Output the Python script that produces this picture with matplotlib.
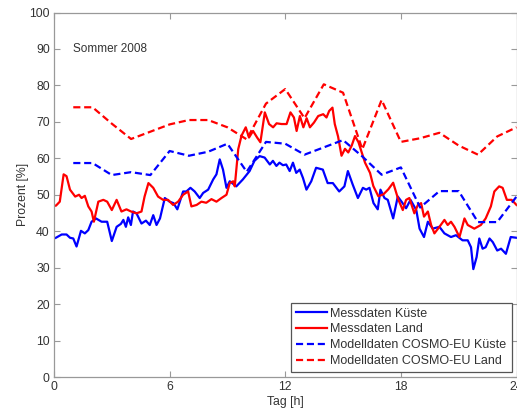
import matplotlib
matplotlib.use("Agg")
import matplotlib.pyplot as plt

plt.rcParams['font.family'] = ['Liberation Sans', 'DejaVu Sans']

# Measured relative humidity, coast station
t_kueste = [0, 0.1, 0.4, 0.65, 0.83, 1.0, 1.17, 1.4, 1.6, 1.78, 1.95, 2.18, 2.47, 2.76, 3.0,
            3.25, 3.47, 3.6, 3.73, 3.85, 3.99, 4.1, 4.28, 4.54, 4.77, 4.97, 5.15, 5.32, 5.5,
            5.75, 6.0, 6.2, 6.4, 6.7, 6.87, 7.08, 7.3, 7.56, 7.74, 8.0, 8.26, 8.43, 8.6, 8.77,
            8.95, 9.12, 9.46, 9.8, 10.15, 10.4, 10.67, 10.93, 11.2, 11.36, 11.54, 11.7, 11.88,
            12.05, 12.23, 12.4, 12.57, 12.75, 12.92, 13.1, 13.35, 13.6, 13.95, 14.2, 14.47,
            14.8, 15.07, 15.25, 15.5, 15.77, 16.03, 16.2, 16.37, 16.58, 16.8, 16.94, 17.15,
            17.32, 17.6, 17.84, 18.05, 18.27, 18.5, 18.8, 18.97, 19.2, 19.4, 19.65, 20.0,
            20.26, 20.6, 20.86, 21.2, 21.47, 21.64, 21.76, 21.93, 22.07, 22.24, 22.4, 22.6,
            22.77, 23.0, 23.2, 23.45, 23.7, 24.0]
v_kueste = [38, 38.2, 39.1, 39.1, 38.2, 38, 35.8, 40.1, 39.4, 40.3, 42.6, 43.5, 42.6, 42.6, 37.3,
            41.2, 42, 43.1, 41.2, 43.8, 41.7, 45.4, 44.9, 42.1, 42.9, 41.7, 44.4, 41.7, 43.5,
            49.1, 48.1, 47.7, 46, 50.9, 50.9, 51.9, 50.9, 49.1, 50.5, 51.4, 54.2, 55.6, 59.7, 56.9,
            51.9, 53.7, 52.3, 54.2, 56.5, 59.3, 60.6, 60.2, 58.3, 59.3, 57.9, 58.8, 58.1,
            58.3, 56.5, 58.8, 56, 56.9, 54.6, 51.4, 53.7, 57.4, 56.9, 53.2, 53.2,
            50.9, 52.3, 56.5, 52.8, 49.1, 51.9, 51.4, 51.9, 47.7, 46, 51.4, 49.1,
            48.6, 43.5, 49.5, 48, 46.3, 48.6, 45.8, 40.7, 38.4, 42.6, 40.7, 41.2,
            39.4, 38.4, 38.9, 37.5, 37.5, 35.6, 29.6, 32.9, 38, 35.2, 35.6, 38,
            37, 34.7, 35.2, 33.8, 38.4, 38.2]

# Measured relative humidity, inland station
t_land = [0, 0.1, 0.3, 0.5, 0.65, 0.83, 1.1, 1.3, 1.43, 1.6, 1.78, 1.95, 2.07, 2.3, 2.56, 2.76,
          3.0, 3.25, 3.5, 3.76, 4.0, 4.28, 4.54, 4.7, 4.9, 5.15, 5.4, 5.66, 5.92, 6.18, 6.44,
          6.7, 6.96, 7.13, 7.4, 7.65, 7.9, 8.17, 8.43, 8.69, 8.95, 9.12, 9.3, 9.38, 9.56, 9.73,
          9.95, 10.12, 10.33, 10.54, 10.71, 10.94, 11.16, 11.37, 11.55, 11.81, 12.07, 12.27,
          12.45, 12.59, 12.76, 12.94, 13.11, 13.28, 13.49, 13.71, 13.97, 14.14, 14.28, 14.45,
          14.57, 14.74, 14.92, 15.1, 15.27, 15.45, 15.62, 15.8, 15.97, 16.14, 16.4, 16.57,
          16.83, 17.09, 17.35, 17.6, 17.86, 18.1, 18.27, 18.44, 18.7, 18.88, 19.05, 19.2,
          19.4, 19.57, 19.74, 20.0, 20.26, 20.43, 20.6, 20.78, 21.04, 21.3, 21.47, 21.81,
          22.15, 22.4, 22.67, 22.85, 23.1, 23.28, 23.5, 23.75, 24.0]
v_land = [47, 47, 48.1, 55.6, 55.1, 51.4, 49.5, 50, 49.1, 49.7, 46.8, 45.4, 42.6, 48.1, 48.6, 48.1,
          45.8, 48.6, 45.4, 46, 45.4, 44.9, 45.4, 49.5, 53.2, 51.9, 49.5, 48.6, 48.6, 47.2, 48.1,
          50, 50.9, 46.8, 47.2, 48.1, 47.8, 48.8, 48.1, 49.1, 50, 53.2, 53.7, 52.3, 62.5, 66.2,
          68.5, 65.7, 67.5, 65.7, 64.4, 72.6, 69.4, 68.5, 69.6, 69.4, 69.4, 72.6,
          71.2, 67.5, 71.6, 68.5, 71, 68.5, 69.8, 71.6, 72.1, 71.2, 73, 73.9,
          69.4, 66, 60.7, 62.6, 61.6, 63.5, 66.1, 64.4, 61.6, 58.8, 56, 52.4,
          49.6, 50.1, 51.5, 53.3, 48.8, 45.8, 48.6, 49.1, 44.9, 47.2, 47.7, 44,
          45.4, 41.7, 39.4, 41.2, 43.1, 41.7, 42.6, 41.2, 38.4, 43.5, 41.7, 40.7,
          41.7, 43.5, 46.8, 50.9, 52.3, 51.9, 48.6, 48.6, 47.2]

# COSMO-EU model output (hourly)
t_modell = list(range(1, 25))
v_modell_kueste = [58.7, 58.7, 55.4, 56.2, 55.4, 62, 60.7, 61.8, 64, 56.3, 64.5, 64,
                   61, 63, 65, 60.5, 55.5, 57.5, 46.5, 51, 51, 42.5, 42.5, 49.5]
v_modell_land = [74, 74, 69.5, 65.3, 67.3, 69.3, 70.5, 70.5, 68.5, 65.2, 75, 79,
                 71, 80.3, 78, 62.5, 76, 64.5, 65.5, 67, 63.5, 61, 66, 68.5]

x_ticks = [0, 6, 12, 18, 24]
y_ticks = list(range(0, 101, 10))

fig = plt.figure(figsize=(5.17, 4.09), dpi=100)
ax = fig.add_axes([54 / 517, 32 / 409, 462.5 / 517, 364.5 / 409])

lw = 1.6
dash = (0, (3.2, 1.7))
ax.plot(t_kueste, v_kueste, color=(0, 0, 1), lw=lw, label='Messdaten Küste')
ax.plot(t_land, v_land, color=(1, 0, 0), lw=lw, label='Messdaten Land')
ax.plot(t_modell, v_modell_kueste, color=(0, 0, 1), lw=lw, ls=dash,
        label='Modelldaten COSMO-EU Küste')
ax.plot(t_modell, v_modell_land, color=(1, 0, 0), lw=lw, ls=dash,
        label='Modelldaten COSMO-EU Land')

ax.set_xlim(0, 24)
ax.set_ylim(0, 100)
ax.set_xticks(x_ticks)
ax.set_yticks(y_ticks)
ax.tick_params(direction='in', top=True, right=True, length=4, width=0.8,
               color='#999999', labelcolor='#333333', labelsize=8.8, pad=3)
for s in ax.spines.values():
    s.set_color('#999999')
    s.set_linewidth(0.9)

ax.set_xlabel('Tag [h]', fontsize=8.8, color='#333333', labelpad=2)
ax.set_ylabel('Prozent [%]', fontsize=8.8, color='#333333')
ax.yaxis.set_label_coords(-0.055, 0.5)
ax.text(1.0, 90, 'Sommer 2008', fontsize=8.5, color='#333333', va='center', ha='left')

leg = ax.legend(loc='lower right', fontsize=9, frameon=True, fancybox=False,
                framealpha=1, edgecolor='#555555', handlelength=2.5, handletextpad=0.25,
                borderpad=0.4, labelspacing=0.3, borderaxespad=0.4)
leg.get_frame().set_linewidth(0.9)
for txt in leg.get_texts():
    txt.set_color('#333333')

fig.savefig('out.png', dpi=100)
